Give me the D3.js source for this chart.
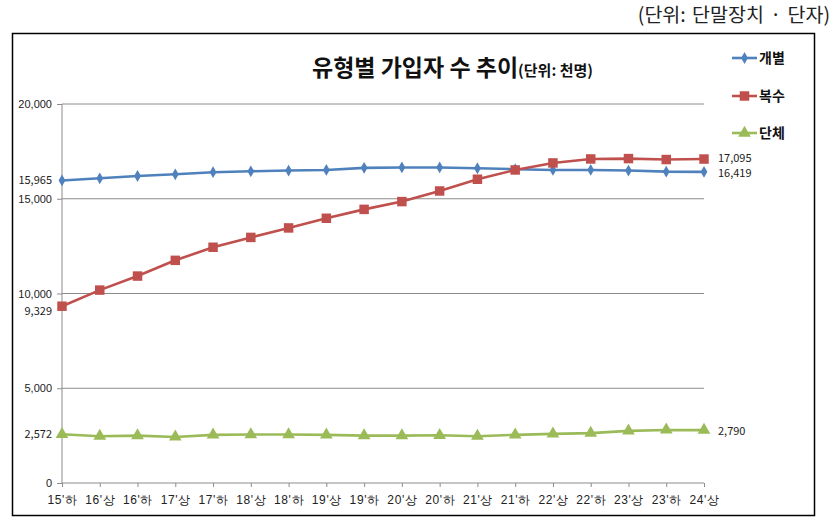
<!DOCTYPE html>
<html><head><meta charset="utf-8">
<script src="https://cdn.jsdelivr.net/npm/d3@7"></script>
<style>
body{margin:0;background:#fff;}
svg{display:block;font-family:"Noto Sans CJK KR","Noto Sans",sans-serif;}
</style></head>
<body><svg id="c" width="834" height="528"></svg>
<script>
const categories = ["15'하","16'상","16'하","17'상","17'하","18'상","18'하","19'상","19'하","20'상","20'하","21'상","21'하","22'상","22'하","23'상","23'하","24'상"];
const individual = [15965,16080,16200,16290,16400,16450,16490,16520,16630,16650,16650,16610,16560,16520,16520,16490,16430,16419];
const multiple   = [9329,10180,10920,11750,12440,12960,13460,13970,14440,14850,15410,16030,16520,16890,17100,17120,17070,17095];
const group      = [2572,2470,2500,2430,2540,2560,2560,2540,2500,2500,2520,2470,2540,2590,2630,2750,2800,2790];
const seriesNames = ["개별","복수","단체"];
const yTicks = [0,5000,10000,15000,20000];

const svg = d3.select("#c");
const colors = ["#4F81BD","#C0504D","#9BBB59"];
const x = d3.scalePoint().domain(categories).range([62,704]);
const y = d3.scaleLinear().domain([0,20000]).range([483,104]);
const fmt = d3.format(",");

// top-right unit text
svg.append("text").attr("x",830).attr("y",22).attr("text-anchor","end")
  .attr("font-size",19.5).attr("fill","#222").attr("word-spacing",2).text("(단위: 단말장치 · 단자)");

// outer frame
svg.append("rect").attr("x",12.5).attr("y",33.5).attr("width",802).attr("height",482)
  .attr("fill","none").attr("stroke","#000").attr("stroke-width",1.5);

// title
const title = svg.append("text").attr("x",312).attr("y",76).attr("font-weight","bold").attr("fill","#111");
title.append("tspan").attr("font-size",23).text("유형별 가입자 수 추이");
title.append("tspan").attr("font-size",15).text("(단위: 천명)");

// gridlines
svg.append("g").selectAll("line").data(yTicks.filter(d=>d>0)).join("line")
  .attr("x1",62).attr("x2",704).attr("y1",d=>y(d)).attr("y2",d=>y(d))
  .attr("stroke","#8c8c8c").attr("stroke-width",1);

// y axis
const yAxis = svg.append("g").attr("transform","translate(62,0)")
  .call(d3.axisLeft(y).tickValues(yTicks).tickFormat(fmt).tickSize(5).tickPadding(6));
yAxis.select(".domain").attr("stroke","#8c8c8c").attr("d","M0,104V483");
yAxis.selectAll(".tick line").attr("stroke","#8c8c8c");
yAxis.selectAll("text").attr("font-size",11).attr("fill","#222").attr("x",-10);

// x axis
const xAxis = svg.append("g").attr("transform","translate(0,483)")
  .call(d3.axisBottom(x).tickSize(4).tickPadding(8));
xAxis.select(".domain").attr("stroke","#8c8c8c").attr("d","M62,0H704");
xAxis.selectAll(".tick line").attr("stroke","#8c8c8c");
xAxis.selectAll("text").attr("font-size",12).attr("letter-spacing",0.6).attr("fill","#222");

const data = [individual,multiple,group];
const line = d3.line().x((d,i)=>x(categories[i])).y(d=>y(d));
const symbols = [d3.symbolDiamond, d3.symbolSquare, d3.symbolTriangle];
const sizes = [40, 90, 70];

data.forEach((vals,k)=>{
  svg.append("path").datum(vals).attr("d",line).attr("fill","none")
    .attr("stroke",colors[k]).attr("stroke-width",2.6);
  svg.append("g").selectAll("path").data(vals).join("path")
    .attr("transform",(d,i)=>`translate(${x(categories[i])},${y(d)})`)
    .attr("d",d3.symbol().type(symbols[k]).size(sizes[k])).attr("fill",colors[k]);
});

// start labels (left)
const startOff = [0,5,0];
data.forEach((vals,k)=>{
  svg.append("text").attr("x",52).attr("y",y(vals[0])+startOff[k]).attr("dy","0.35em")
    .attr("text-anchor","end").attr("font-size",11).attr("fill","#222").text(fmt(vals[0]));
});
// end labels (right)
const endOff = [1,-1,1];
data.forEach((vals,k)=>{
  const last = vals[vals.length-1];
  svg.append("text").attr("x",718).attr("y",y(last)+endOff[k]).attr("dy","0.35em")
    .attr("font-size",11).attr("fill","#222").text(fmt(last));
});

// legend
const ly = [58,96,133];
seriesNames.forEach((n,k)=>{
  const g = svg.append("g");
  g.append("line").attr("x1",732).attr("x2",757).attr("y1",ly[k]).attr("y2",ly[k])
    .attr("stroke",colors[k]).attr("stroke-width",2.6);
  g.append("path").attr("transform",`translate(744.5,${ly[k]})`)
    .attr("d",d3.symbol().type(symbols[k]).size(sizes[k])).attr("fill",colors[k]);
  g.append("text").attr("x",759).attr("y",ly[k]).attr("dy","0.36em")
    .attr("font-size",14).attr("font-weight","bold").attr("fill","#111").text(n);
});
</script></body></html>
